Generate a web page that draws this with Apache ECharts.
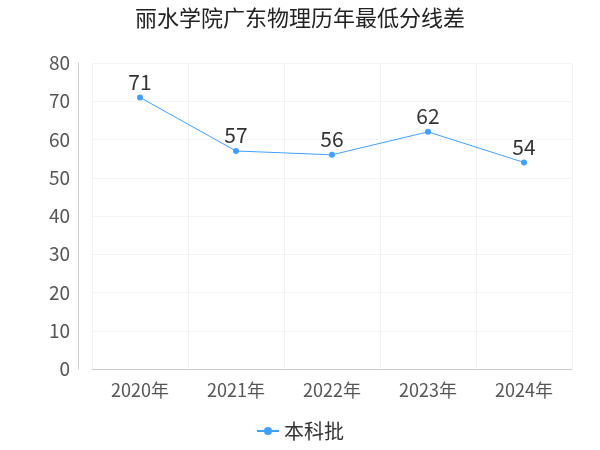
<!DOCTYPE html>
<html>
<head>
<meta charset="utf-8">
<script src="https://cdn.jsdelivr.net/npm/echarts@6/dist/echarts.min.js"></script>
</head>
<body style="margin:0">
<div id="main" style="width:600px;height:450px;"></div>
<script>
var years = ['2020年', '2021年', '2022年', '2023年', '2024年'];
var scores = [71, 57, 56, 62, 54];

var chart = echarts.init(document.getElementById('main'));
chart.setOption({
    textStyle: {fontFamily: 'Noto Sans CJK SC'},
    title: {
        text: '丽水学院广东物理历年最低分线差',
        left: 'center', top: 2,
        textStyle: {fontSize: 22, fontWeight: 'normal', color: '#222'}
    },
    legend: {
        bottom: 4,
        data: ['本科批'],
        itemWidth: 22, itemHeight: 10,
        textStyle: {fontSize: 20, color: '#333'}
    },
    grid: {left: 92, right: 28, top: 63, bottom: 81},
    xAxis: {
        type: 'category',
        data: years,
        axisTick: {show: false},
        axisLine: {lineStyle: {color: '#ccc'}},
        axisLabel: {fontSize: 18, color: '#555', margin: 12},
        splitLine: {show: true, lineStyle: {color: '#f3f3f3'}}
    },
    yAxis: {
        type: 'value',
        min: 0, max: 80, interval: 10,
        offset: 14,
        axisLine: {show: true, lineStyle: {color: '#ccc'}},
        axisLabel: {fontSize: 19, color: '#555'},
        splitLine: {lineStyle: {color: '#f3f3f3'}}
    },
    series: [{
        name: '本科批',
        type: 'line',
        data: scores,
        color: '#3fa0ff',
        symbol: 'circle', symbolSize: 6,
        lineStyle: {width: 1},
        label: {show: true, position: 'top', fontSize: 21, color: '#333', distance: 2}
    }]
});
</script>
</body>
</html>
